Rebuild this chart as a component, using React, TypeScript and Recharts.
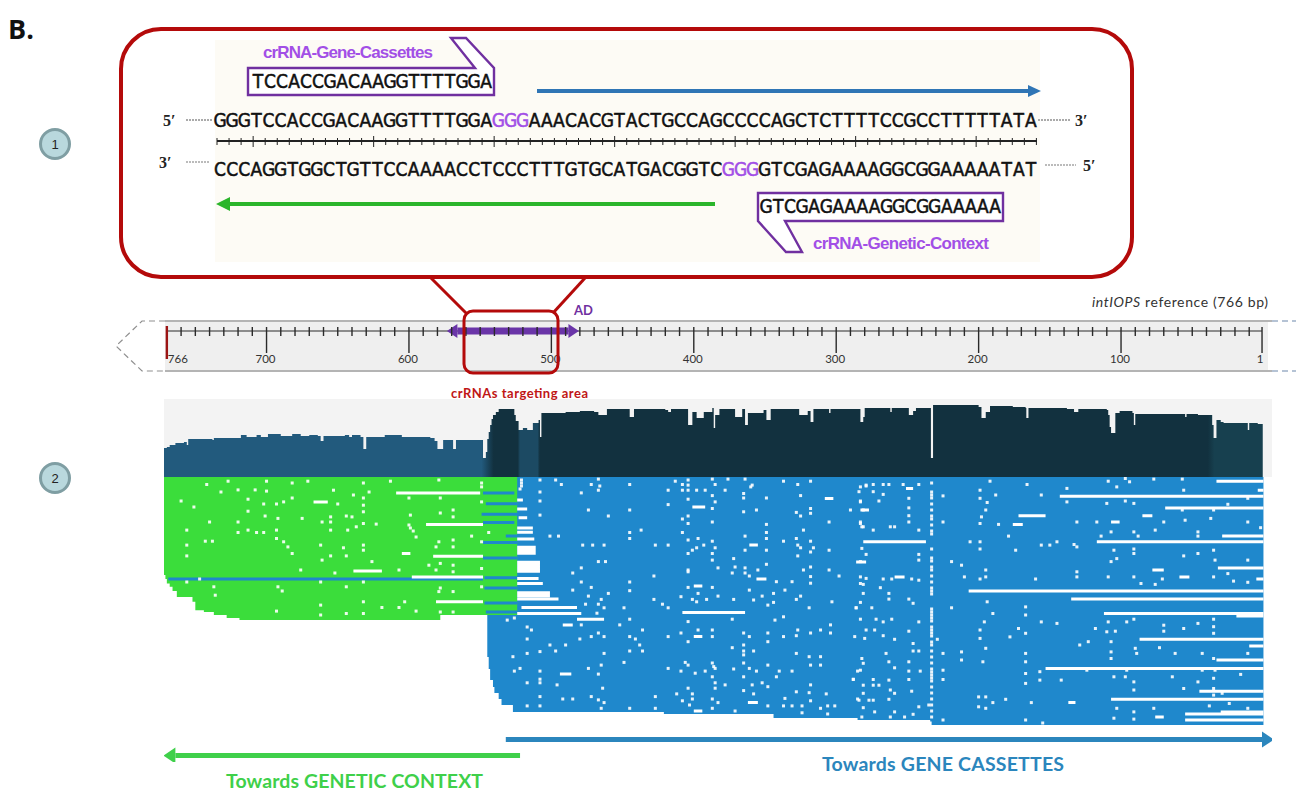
import React from "react";
import { Area, ComposedChart, Line, Scatter, XAxis, YAxis } from "recharts";

// reference position in bp, the drawn ruler runs a little past 766 at its left end
const xDomain = [-6, 772];

const rulerTicks = [770, 760, 750, 740, 730, 720, 710, 700, 690, 680, 670, 660, 650, 640, 630, 620, 610, 600, 590, 580, 570, 560, 550, 540, 530, 520, 510, 500, 490, 480, 470, 460, 450, 440, 430, 420, 410, 400, 390, 380, 370, 360, 350, 340, 330, 320, 310, 300, 290, 280, 270, 260, 250, 240, 230, 220, 210, 200, 190, 180, 170, 160, 150, 140, 130, 120, 110, 100, 90, 80, 70, 60, 50, 40, 30, 20, 10, 1];
const rulerLabels: Record<number, string> = { 770: "766", 700: "700", 600: "600", 500: "500", 400: "400", 300: "300", 200: "200", 100: "100", 1: "1" };
const rulerSpan = [770, 1];
const adRegion = [566, 488];

// coverage [bp, depth]
const coverage = [
  [772, 29], [770, 30], [768, 32], [764, 34], [758, 35], [756, 32], [755, 38], [745, 38], [738, 37], [737, 39], [728, 39], [720, 39], [718, 42], [714, 40], [707, 42], [704, 40], [699, 43], [690, 41], [682, 43], [676, 41], [670, 42], [664, 41], [662, 36], [660, 41], [645, 42], [642, 40], [640, 42], [634, 40], [632, 28], [630, 40], [622, 40], [617, 42], [608, 42], [605, 40], [590, 40], [585, 39], [582, 36], [580, 28], [577, 28], [576, 37], [570, 37], [569, 28], [567, 37], [550, 37], [548, 19], [546, 25], [545, 38], [544, 45], [543, 52], [542, 58], [541, 62], [539, 65], [537, 68], [528, 68],
  [526, 62], [525, 56], [523, 47], [520, 49], [517, 47], [513, 54], [509, 57], [508, 40], [507, 64], [490, 65], [480, 66], [470, 65], [467, 62], [461, 68], [446, 68], [445, 60], [442, 68], [420, 67], [418, 65], [416, 68], [405, 68], [404, 52], [401, 65], [398, 59], [393, 65], [387, 69], [386, 49], [385, 62], [382, 68], [372, 68], [371, 60], [366, 68], [365, 68], [364, 52], [362, 64], [351, 67], [349, 57], [346, 68], [328, 68], [326, 62], [320, 66], [318, 55], [316, 68], [305, 64], [304, 68], [290, 68], [284, 68], [283, 55], [281, 60], [280, 69], [263, 69], [262, 65], [261, 69], [250, 69], [249, 62], [246, 66], [244, 69], [234, 69], [233.5, 19], [232.5, 19], [232, 72], [200, 70], [198, 59], [195, 65], [192, 71], [176, 70], [167, 69], [166.5, 59], [165, 69], [138, 68], [133, 65], [130, 68], [110, 67], [109, 62], [108, 50], [107, 44], [104, 64], [101, 66], [92, 64], [91, 52], [90, 63], [56, 63], [55, 60], [54, 63], [46, 62], [39, 62], [36, 52], [35, 39], [33, 57], [30, 55], [28, 54], [12, 54], [11, 47], [10, 54], [4, 53], [0.5, 51],
];

// read depth, in rows from the top of the pile-up
const geneticDepth = [[772, 32.7], [771, 34], [770, 35.5], [768, 36.6], [766, 38], [763, 40], [752, 41.6], [750, 44.4], [744, 45], [737, 46], [728, 47], [719, 47.7], [581, 47.7], [578, 46], [524, 46]];
const cassetteDepth = [[545.5, 46], [545, 60], [544, 64], [543, 67.7], [541, 70], [540, 72], [537, 74], [535, 76], [527, 78.3], [422, 78.3], [421, 79], [345, 79], [344, 80.3], [285, 81], [234, 81.5], [233, 82.7], [0, 82.7]];

// [from bp, to bp, row]
const cassetteLanes = [[769, 548, 34], [548, 526, 5.3], [546, 524, 8.9], [549, 522, 12.4], [548, 526, 15.2], [532, 518, 19.7], [548, 524, 21.8], [548, 524, 27], [547, 522, 33.6], [547, 524, 37], [547, 524, 42], [546, 524, 45]];
const readGaps = [
  [609, 550, 5.3], [588, 548, 15.8], [583, 548, 26.4], [598, 548, 33.3], [581, 548, 41.6], [667, 657, 8.3], [639, 619, 31.3], [605, 599, 25.5],
  [524, 520, 7.7], [524, 517, 10.7], [523, 517, 13.6], [524, 513, 17], [524, 513, 18.4], [524, 512, 20.7], [524, 511, 23.4], [524, 511, 24.4], [524, 511, 25.4], [524, 508, 28.4], [524, 508, 29.4], [524, 508, 30.4], [524, 508, 31.4], [524, 509, 33.8], [524, 506, 35.5], [524, 501, 38.6], [524, 501, 39.6], [524, 495, 40.7], [521, 482, 43.5], [524, 479, 45.5], [482, 463, 47.4],
  [408, 364, 45.2], [33, 0, 1.4], [4, 0, 4.4], [143, 0, 6.4], [69, 0, 10.3], [172, 153, 12.9], [176, 169, 15.8], [85, 78, 12.9], [107, 101, 15], [29, 0, 19.7], [281, 237, 21.6], [117, 0, 21.6], [32, 0, 30.3], [5, 0, 34], [207, 0, 38], [135, 0, 40.7], [112, 0, 45.5], [19, 0, 46.3], [87, 0, 54.1], [10, 0, 56.3], [33, 0, 61], [153, 0, 63.8], [45, 0, 71.4], [107, 0, 74.1], [30, 0, 78.3], [55, 0, 79], [55, 0, 81],
  [286, 279, 28.3], [259, 252, 33.3], [251, 246, 3.8], [283, 277, 11], [78, 70, 31], [59, 52, 33.3], [76, 70, 80], [137, 132, 75.2], [492, 485, 49.3], [494, 486, 65.7], [400, 394, 36.3], [400, 394, 53.2], [362, 355, 75.2], [400, 394, 78], [356, 349, 34], [401, 392, 10], [361, 355, 22.7], [308, 302, 7.2],
];

// single mismatches as [bp, row]
const geneticDots = [
  [742, 2.5], [727, 1.4], [700, 1.4], [682, 2], [671, 1.4], [632, 2], [613, 1.4], [579, 1], [732, 5], [720, 4.3], [708, 4.3], [700, 4.7], [653, 4.4], [639, 6], [632, 7], [628, 5], [713, 7.4], [760, 8], [751, 10], [702, 9], [713, 11.4], [693, 9], [688, 8.3], [682, 7], [650, 9], [632, 9.4], [632, 11.6],
  [701, 13], [740, 15], [720, 15], [675, 13.8], [655, 13.3], [655, 15], [692, 13.8], [640, 13.3], [644, 13], [661, 15], [632, 15.5], [623, 15.7], [637, 16.6], [643, 17.7], [756, 17.7], [720, 18.5], [713, 17.7], [707, 18.5], [702, 18.5], [693, 17.7], [655, 17.7], [693, 20.5], [688, 21.6], [743, 21.4], [738, 21.4], [756, 22.7], [685, 23.3], [632, 22.7], [632, 24.4], [662, 22.7], [682, 25.5], [646, 23.6], [756, 26.3], [655, 26.3], [644, 26.3], [661, 27.7], [626, 28.2], [676, 31], [652, 32], [607, 31],
  [747, 34], [756, 35], [737, 36.6], [736, 39.4], [692, 36.6], [689, 38], [662, 35], [644, 36.6], [632, 35], [662, 42.7], [662, 46], [693, 44.7], [644, 45.5], [632, 45.5], [632, 41.6], [619, 43.5], [607, 43.5], [603, 41.6], [595, 44.7],
  [600, 7], [599, 12.7], [600, 16], [599, 17], [595, 20], [597, 18], [578, 7], [578, 12], [569, 11], [569, 13.3], [579, 21.6], [581, 23.3], [569, 21], [569, 23.3], [556, 19.7], [586, 29.4], [578, 28.8], [581, 31], [569, 29.4], [569, 31.6], [578, 37], [579, 38.2], [569, 38.2], [569, 45], [578, 45], [544, 18.5], [549, 2], [549, 3.3], [549, 8.3], [549, 21.6], [549, 30.5], [549, 36.6],
  [521, 1], [521, 2], [521, 3], [522, 4],
];
const cassetteDotsA = [
  [508, 1], [508, 5], [508, 8], [508, 12.7], [497, 1], [493, 2.5], [479, 5.3], [472, 2.5], [467, 0.7], [466, 3], [467, 4.4], [445, 2.5], [413, 1.4], [408, 2.5], [404, 1], [404, 2.7], [418, 4.4], [408, 4.4], [404, 4.4], [398, 4.4], [392, 4.4], [387, 0.7], [385, 2.5], [376, 0.7], [378, 4.4], [364, 0.7], [359, 2.7], [360, 3.3], [365, 5.5], [365, 7], [349, 7], [387, 6.2], [385, 8.3], [418, 9.2], [404, 7.4], [387, 10.5], [365, 11.6], [356, 11], [337, 1.4], [327, 2.5], [318, 1.4], [325, 6.2], [328, 11.8], [325, 13], [318, 10.5], [318, 12.1], [290, 11], [281, 11], [283, 3.3], [279, 3], [283, 8.3], [474, 11], [445, 11], [460, 13], [404, 13], [408, 14], [404, 15.5], [387, 15], [349, 15.8], [305, 15], [283, 15.5], [281, 16.6], [437, 17.7], [408, 18.5], [445, 18.5], [445, 20.5], [501, 19.7], [495, 19.7], [349, 18.5], [349, 20.5], [323, 17.7], [364, 19.7], [397, 20.5], [404, 21], [387, 21.4], [337, 21.4], [328, 20.5], [318, 21.4], [478, 22.7], [471, 22.7], [463, 22.7], [427, 22.7], [418, 22.7], [393, 22.7], [398, 23.6], [385, 23.6], [327, 22.7], [325, 23.6], [401, 24.4], [404, 25.5], [364, 24.4], [349, 24.4], [316, 23.6], [318, 25], [305, 24.4], [327, 26.3], [387, 25.5], [387, 27.7], [467, 28.2], [462, 28.2], [372, 27.2], [383, 30.3], [364, 30.3], [371, 30], [349, 29.1], [479, 30.3], [404, 31], [355, 31], [305, 31], [323, 31], [318, 30], [283, 28.2],
];
const cassetteDotsB = [
  [485, 32], [428, 33], [404, 31.6], [373, 32], [364, 32], [361, 33], [342, 34.9], [331, 34.9], [318, 33.2], [318, 35.4], [298, 33], [485, 37.7], [479, 35], [472, 36.8], [445, 35], [445, 37.9], [404, 36.8], [397, 38.8], [387, 36.8], [361, 37.7], [344, 38.8], [336, 37.7], [460, 38.8], [474, 39.7], [465, 40.8], [428, 40.8], [409, 39.9], [401, 40.8], [391, 40.8], [383, 39.7], [372, 40.8], [398, 41.6], [358, 41], [352, 39.7], [325, 39.7], [328, 40.8], [344, 41.8], [348, 42.7], [303, 41.6], [476, 42.4], [467, 42.4], [463, 43.6], [449, 43.6], [422, 42.4], [418, 43.6], [319, 43.6], [286, 43.6], [468, 45.4], [445, 47.4], [337, 46.6], [343, 47.7], [404, 48.2], [373, 47.4], [531, 47.7], [526, 47], [479, 49.3], [452, 49.3], [304, 49.3], [517, 50], [514, 51], [436, 51], [397, 51], [387, 51], [365, 52], [348, 52], [327, 51], [318, 52], [311, 51], [304, 52],
  [472, 53.2], [467, 52], [463, 53.2], [445, 53.2], [418, 53.2], [409, 52], [387, 53.2], [361, 53.2], [337, 53.2], [328, 52.9], [287, 53.2], [480, 54], [441, 54], [517, 54], [348, 54.9], [404, 54.9], [438, 56], [501, 56], [490, 56], [365, 56], [373, 56.9], [508, 58.2], [497, 58], [445, 58], [436, 58], [358, 58], [365, 58], [517, 58.8], [463, 58.8], [527, 59.9], [365, 59.3], [328, 58.8], [319, 59.9], [311, 59.9], [449, 61.8], [406, 61.8], [387, 62], [404, 62.7], [365, 62], [465, 62.7], [348, 62.7], [318, 62.7], [311, 62.7], [386, 63.2], [522, 63.8], [526, 64.7], [508, 64.7], [474, 63.8], [467, 65.7], [418, 63.8], [409, 64.7], [399, 65.4], [392, 64.7], [385, 63.8], [372, 64], [361, 63.8], [356, 64.7], [340, 64.7], [331, 64.7], [285, 64.7], [342, 66.6], [365, 66.6], [387, 66.6], [508, 67.4], [508, 68.6], [517, 68.6], [288, 67.4], [385, 68.6], [496, 69.3], [378, 69.3], [359, 69.3], [352, 68.6], [348, 69.9], [318, 69.3], [464, 70.4], [385, 70.4], [404, 70.4], [365, 71.2], [508, 73.2], [427, 73.2], [412, 72.3], [401, 72.3], [358, 72.3], [328, 71.6], [319, 71.9], [307, 72.3], [285, 74], [492, 74], [485, 74], [472, 73.2], [467, 74.3], [408, 74.6], [401, 74], [387, 74], [336, 73.8], [318, 74.6], [463, 75.2], [517, 76.3], [508, 76.3], [465, 77.1], [445, 77.1], [427, 77.1], [403, 76], [387, 77.1], [383, 75.2], [371, 78], [348, 76.3], [337, 76.3], [331, 76.3], [324, 76.3], [324, 78.6], [311, 77.1], [306, 76.3], [301, 76.3], [306, 79],
];
const cassetteDotsC = [
  [279, 2.7], [274, 2.5], [267, 2.5], [263, 2.5], [253, 2.5], [242, 2.5], [284, 4.9], [274, 4.9], [267, 5.8], [283, 8], [270, 8], [249, 7.1], [249, 10.3], [249, 12.9], [249, 15], [283, 15], [282, 16.6], [262, 16.6], [259, 16.6], [274, 17.7], [242, 17.7], [225, 6.3], [199, 4.4], [199, 7.1], [192, 1.4], [188, 6], [194, 8.5], [195, 11], [198, 13.3], [225, 15], [199, 15.5], [186, 15.8], [166, 2.5], [156, 6], [179, 19.7], [206, 21.6], [199, 21.6], [199, 24], [174, 24.4], [156, 22.7], [150, 22.7], [145, 21.6], [133, 22.5], [131, 15], [117, 15], [138, 3.8], [109, 1.4], [103, 3.3], [97, 0.5], [94, 1.6], [77, 0.7], [57, 0.7], [56, 4.4], [110, 8.8], [97, 8], [91, 8.8], [138, 8.3], [57, 11], [55, 14.4], [70, 15], [35, 11], [37, 13.8], [25, 9.1], [11, 7.1], [11, 15], [2, 16.9], [107, 18.3], [114, 19.7], [91, 18.3], [88, 19.7], [76, 17.7], [46, 18.3], [46, 19.7], [131, 23.3], [105, 24.4], [91, 24], [91, 25.5], [56, 26.3], [46, 25.5], [35, 24.4], [34, 27.7], [11, 27.7], [103, 27.2], [107, 28.2], [219, 28.2], [212, 29.4], [195, 31], [195, 33.3], [210, 33.3], [199, 34], [160, 34], [131, 31.6], [131, 33.3], [109, 33.3], [91, 33.3], [86, 35.5], [76, 35.8], [71, 34], [35, 33.3], [25, 32.2], [21, 34.7], [11, 35.1],
  [282, 23.8], [279, 25.8], [242, 25.8], [242, 27.7], [283, 33.3], [279, 33.8], [267, 34], [261, 34], [242, 34.4], [247, 34], [283, 35.5], [281, 35.8], [269, 36.9], [281, 38.8], [263, 38.8], [263, 40.7], [249, 40.7], [246, 42.1], [286, 43.6], [283, 41.8], [275, 43.6], [283, 47.4], [272, 47.4], [267, 48.3], [261, 47.4], [242, 48.3], [279, 51], [273, 51], [249, 51.4], [280, 53.8], [267, 52.9], [259, 54.1], [265, 58.8], [246, 55.5], [246, 58], [242, 58], [282, 60.5], [281, 62.1], [283, 64.4], [263, 61.6], [259, 63.6], [249, 61.6], [249, 64.7], [241, 64.7], [288, 67.5], [274, 67.5], [270, 69.4], [263, 67.7], [249, 67.5], [281, 69.4], [274, 69.4], [262, 71], [259, 72.1], [247, 71.4], [284, 74.4], [281, 72.1], [277, 74.4], [281, 76.9], [274, 74.4], [263, 74.1], [273, 78.3], [259, 78.3], [242, 76.6], [235, 76], [246, 79.1], [262, 80], [252, 80], [282, 80],
  [225, 64.4], [225, 67.5], [196, 48.3], [190, 45.5], [199, 51], [199, 53.8], [219, 43.6], [194, 41.6], [229, 54.1], [212, 58.3], [212, 61], [195, 57.1], [197, 61.6], [225, 58.8], [178, 53.3], [172, 50.5], [167, 43.3], [167, 46], [167, 52.1], [167, 58.8], [167, 61.6], [167, 65.5], [167, 68.8], [156, 48.3], [145, 48.8], [157, 64.9], [157, 67.7], [142, 67.7], [129, 56], [123, 54.9], [118, 50.5], [109, 48.3], [110, 51.6], [104, 51.4], [107, 54.9], [107, 58.3], [107, 60.5], [90, 57.1], [89, 58.8], [96, 48.3], [91, 47.4], [70, 49.4], [70, 51.4], [56, 50.5], [46, 48.8], [35, 47.4], [35, 49.9], [35, 52.1], [73, 56.9], [62, 58.8], [43, 58.8], [11, 58.8], [35, 60.5], [124, 64.4], [96, 64.4], [43, 64.4], [34, 64.4], [105, 66.6], [97, 66.6], [91, 68.3], [91, 71], [64, 66.6], [46, 68.3], [35, 67.1], [16, 65.8], [56, 70.5], [35, 70.5], [29, 72.1], [200, 73.3], [195, 73.3], [200, 76.6], [195, 77.1], [190, 75.2], [181, 74.1], [163, 75.2], [167, 81], [225, 81], [155, 82], [103, 77.1], [91, 78.3], [91, 80.7], [105, 80.4], [77, 77.1], [38, 76.3], [11, 77.1], [24, 75.5], [35, 72.7],
];
// the nearly continuous mismatch column at bp 233
const column233 = [2, 5, 6, 7, 9, 11, 13, 14, 16, 18, 19, 24, 27, 28, 30, 31, 33, 35, 37, 38, 39, 44, 45, 46, 47, 48, 50, 51, 52, 53, 55, 56, 58, 60, 62, 64, 65, 66, 67, 68, 70, 72, 74, 76, 78, 80];

// direction arrows below the pile-up
const towardsContext = [764, 522];
const towardsCassettes = [532, 1];

const seqTop = ["GGGTCCACCGACAAGGTTTTGGA", "GGG", "AAACACGTACTGCCAGCCCCAGCTCTTTTCCGCCTTTTTATA"];
const seqBottom = ["CCCAGGTGGCTGTTCCAAAACCTCCCTTTGTGCATGACGGTC", "GGG", "GTCGAGAAAAGGCGGAAAAATAT"];
const crrnaCassettes = "TCCACCGACAAGGTTTTGGA";
const crrnaContext = "GTCGAGAAAAGGCGGAAAAA";

const PLOT_LEFT = 164;
const PLOT_W = 1108;
const LABEL_FONT = "Lato, 'Open Sans', sans-serif";
const SEQ_FONT = "'Liberation Sans Narrow', 'DejaVu Sans Condensed', sans-serif";
const PURPLE = "#7030a0";
const LABEL_PURPLE = "#a24fe6";
const RED = "#b40a0a";
const GREEN = "#3bdd3b";
const BLUE = "#1f88cc";

const rowsOf = (pairs: number[][]) => pairs.map(([bp, row]) => ({ bp, row }));
const segments = (list: number[][]) =>
  list.flatMap(([a, b, row]) => [{ bp: a, row }, { bp: b, row }, { bp: b, row: null }]);

function RulerTick({ x, payload }: any) {
  const v = payload.value;
  const label = rulerLabels[v];
  const first = v === 770;
  const dx = first ? 11 : v === 1 ? -2 : -1;
  return (
    <g>
      <line x1={x} x2={x} y1={first ? 5 : 6} y2={label ? (first ? 38 : 32) : 15} stroke={first ? "#9c1414" : "#2a2a2a"} strokeWidth={first ? 2.4 : 1.4} />
      {label && (
        <text x={x + dx} y={42} textAnchor="middle" fontSize={11.5} fontFamily={LABEL_FONT} fill="#333">
          {label}
        </text>
      )}
    </g>
  );
}

const arrowDot = (size: number, ends: string[], color: string) => (p: any) => {
  const { cx, cy, index } = p;
  const d = ends[index];
  if (!d) return <g key={index} />;
  const s = d === "left" ? -1 : 1;
  return (
    <polygon key={index} points={`${cx + s * size * 1.5},${cy} ${cx},${cy - size} ${cx},${cy + size}`} fill={color} />
  );
};

function Ruler() {
  const span = rulerSpan.map((bp) => ({ bp, y: 1 }));
  const ad = adRegion.map((bp) => ({ bp, y: 1 }));
  return (
    <div style={{ position: "absolute", left: PLOT_LEFT, top: 321 }}>
      <ComposedChart width={PLOT_W} height={50} margin={{ top: 0, right: 0, bottom: 0, left: 0 }}>
        <XAxis dataKey="bp" type="number" orientation="top" reversed domain={xDomain} ticks={rulerTicks} interval={0} height={10} tick={<RulerTick />} tickLine={false} axisLine={false} />
        <YAxis hide domain={[0, 1]} />
        <Line data={span} dataKey="y" stroke="#2a2a2a" strokeWidth={1.2} dot={false} activeDot={false} isAnimationActive={false} />
        <Line data={ad} dataKey="y" stroke="#6a35a8" strokeWidth={7} isAnimationActive={false} dot={arrowDot(7, ["left", "right"], "#6a35a8")} activeDot={false} />
      </ComposedChart>
    </div>
  );
}

function Coverage() {
  const data = coverage.map(([bp, depth]) => ({ bp, depth }));
  return (
    <div style={{ position: "absolute", left: PLOT_LEFT, top: 399, background: "#f3f3f3" }}>
      <ComposedChart width={PLOT_W} height={78} margin={{ top: 0, right: 0, bottom: 0, left: 0 }}>
        <defs>
          <linearGradient id="depthFill" x1="0" x2="1" y1="0" y2="0">
            <stop offset="0" stopColor="#225a7d" />
            <stop offset="0.289" stopColor="#225a7d" />
            <stop offset="0.3" stopColor="#12313f" />
            <stop offset="0.322" stopColor="#12313f" />
            <stop offset="0.324" stopColor="#1c4a63" />
            <stop offset="0.34" stopColor="#1c4a63" />
            <stop offset="0.342" stopColor="#12313f" />
            <stop offset="0.95" stopColor="#12313f" />
            <stop offset="0.956" stopColor="#17404f" />
            <stop offset="1" stopColor="#17404f" />
          </linearGradient>
        </defs>
        <XAxis hide dataKey="bp" type="number" reversed domain={xDomain} />
        <YAxis hide domain={[0, 78]} />
        <Area data={data} dataKey="depth" type="stepAfter" fill="url(#depthFill)" fillOpacity={1} stroke="none" isAnimationActive={false} />
      </ComposedChart>
    </div>
  );
}

function Pileup() {
  const whiteDots = rowsOf([...geneticDots, ...cassetteDotsA, ...cassetteDotsB, ...cassetteDotsC, ...column233.map((r) => [233, r])]);
  const square = (p: any) => <rect x={p.cx - 1.5} y={p.cy - 1.5} width={3} height={3} fill="#fff" fillOpacity={0.9} />;
  return (
    <div style={{ position: "absolute", left: PLOT_LEFT, top: 477 }}>
      <ComposedChart width={PLOT_W} height={249} margin={{ top: 0, right: 0, bottom: 0, left: 0 }}>
        <XAxis hide dataKey="bp" type="number" reversed domain={xDomain} />
        <YAxis hide dataKey="row" type="number" reversed domain={[0, 83]} />
        <Area data={rowsOf(cassetteDepth)} dataKey="row" type="stepAfter" fill={BLUE} fillOpacity={1} stroke="none" isAnimationActive={false} />
        <Area data={rowsOf(geneticDepth)} dataKey="row" type="stepAfter" fill={GREEN} fillOpacity={1} stroke="none" isAnimationActive={false} />
        <Line data={segments(cassetteLanes)} dataKey="row" stroke={BLUE} strokeWidth={3} dot={false} activeDot={false} isAnimationActive={false} />
        <Line data={segments(readGaps)} dataKey="row" stroke="#fff" strokeWidth={3} dot={false} activeDot={false} isAnimationActive={false} />
        <Scatter data={whiteDots} dataKey="row" shape={square} isAnimationActive={false} />
      </ComposedChart>
    </div>
  );
}

function Directions() {
  const left = towardsContext.map((bp) => ({ bp, y: 0.2 }));
  const right = towardsCassettes.map((bp) => ({ bp, y: 0.7 }));
  return (
    <div style={{ position: "absolute", left: PLOT_LEFT, top: 730 }}>
      <ComposedChart width={PLOT_W} height={32} margin={{ top: 0, right: 0, bottom: 0, left: 0 }}>
        <XAxis hide dataKey="bp" type="number" reversed domain={xDomain} />
        <YAxis hide domain={[0, 1]} />
        <Line data={left} dataKey="y" stroke="#3fd04a" strokeWidth={5} dot={arrowDot(8, ["left", ""], "#3fd04a")} activeDot={false} isAnimationActive={false} />
        <Line data={right} dataKey="y" stroke="#2b86bd" strokeWidth={5} dot={arrowDot(8, ["", "right"], "#2b86bd")} activeDot={false} isAnimationActive={false} />
      </ComposedChart>
    </div>
  );
}

// the bases sit on an even pitch like a monospaced font, but with narrow letters
function Bases({ text, x, pitch, y, color = "#111" }: { text: string; x: number; pitch: number; y: number; color?: string }) {
  const xs = Array.from(text, (_, i) => (x + pitch * (i + 0.5)).toFixed(1)).join(" ");
  return (
    <text x={xs} y={y} textAnchor="middle" fontFamily={SEQ_FONT} fontSize={19} fill={color} stroke={color} strokeWidth={0.5}>
      {text}
    </text>
  );
}

function Sequence({ parts, y }: { parts: string[]; y: number }) {
  const pitch = 823 / parts.join("").length;
  const midStart = 214 + parts[0].length * pitch;
  const endStart = midStart + parts[1].length * pitch;
  return (
    <g>
      <Bases text={parts[0]} x={214} pitch={pitch} y={y} />
      <Bases text={parts[1]} x={midStart} pitch={pitch} y={y} color={LABEL_PURPLE} />
      <Bases text={parts[2]} x={endStart} pitch={pitch} y={y} />
    </g>
  );
}

function BehindCharts() {
  return (
    <svg width={1296} height={792} style={{ position: "absolute", left: 0, top: 0 }}>
      <rect x={165} y={322} width={1103} height={48} fill="#efefef" />
      <line x1={165} x2={1272} y1={321} y2={321} stroke="#9b9b9b" strokeWidth={1.6} />
      <line x1={165} x2={1272} y1={371} y2={371} stroke="#9b9b9b" strokeWidth={1.6} />
      <path d="M165 321 H142 L116 346 L142 371 H165" fill="none" stroke="#8f8f8f" strokeWidth={1.2} strokeDasharray="6 4" />
      <line x1={1272} x2={1296} y1={321} y2={321} stroke="#9db0c8" strokeWidth={1.4} strokeDasharray="6 4" />
      <line x1={1272} x2={1296} y1={371} y2={371} stroke="#9db0c8" strokeWidth={1.4} strokeDasharray="6 4" />
    </svg>
  );
}

function Overlay() {
  const ladder = Array.from({ length: 69 }, (_, i) => 217 + i * 12.05);
  return (
    <svg width={1296} height={792} style={{ position: "absolute", left: 0, top: 0 }}>
      <text x={8} y={39} fontFamily="'Open Sans', sans-serif" fontWeight={700} fontSize={27} fill="#111">B.</text>

      {/* zoom box */}
      <rect x={215} y={40} width={825} height={222} fill="#fdfbf5" />
      <rect x={121} y={29} width={1011} height={248} rx={40} fill="none" stroke={RED} strokeWidth={4} />
      <line x1={431} y1={278} x2={466} y2={313} stroke={RED} strokeWidth={3} />
      <line x1={585} y1={278} x2={553} y2={313} stroke={RED} strokeWidth={3} />
      <rect x={464} y={311} width={94} height={62} rx={9} fill="none" stroke={RED} strokeWidth={3} />

      <text x={263} y={58} fontFamily="'Liberation Sans Narrow', sans-serif" fontWeight={700} fontSize={17} fill={LABEL_PURPLE} textLength={170}>crRNA-Gene-Cassettes</text>
      <path d="M248 68 H475 L451 38 H466 L494 68 V95 H248 Z" fill="#fff" stroke={PURPLE} strokeWidth={2.4} />
      <Bases text={crrnaCassettes} x={252} pitch={12} y={88} />

      <line x1={537} x2={1030} y1={91} y2={91} stroke="#2f75b5" strokeWidth={4} />
      <polygon points="1041,91 1028,85 1028,97" fill="#2f75b5" />

      <text x={163} y={126} fontFamily="'Liberation Serif', serif" fontWeight={700} fontSize={16} fill="#222">5′</text>
      <line x1={186} x2={212} y1={120} y2={120} stroke="#aaa" strokeWidth={2} strokeDasharray="2 1" />
      <Sequence parts={seqTop} y={127} />
      <line x1={1038} x2={1070} y1={120} y2={120} stroke="#aaa" strokeWidth={2} strokeDasharray="2 1" />
      <text x={1075} y={126} fontFamily="'Liberation Serif', serif" fontWeight={700} fontSize={16} fill="#222">3′</text>

      <line x1={217} x2={1037} y1={141} y2={141} stroke="#222" strokeWidth={1.8} />
      {ladder.map((x, i) => (
        <line key={i} x1={x} x2={x} y1={i % 10 === 3 ? 136 : 138} y2={i % 10 === 3 ? 147 : 145} stroke="#222" strokeWidth={1} />
      ))}

      <text x={159} y={168} fontFamily="'Liberation Serif', serif" fontWeight={700} fontSize={16} fill="#222">3′</text>
      <line x1={186} x2={209} y1={162} y2={162} stroke="#bbb" strokeWidth={2} strokeDasharray="2 1" />
      <Sequence parts={seqBottom} y={176} />
      <line x1={1045} x2={1076} y1={165} y2={165} stroke="#bbb" strokeWidth={2} strokeDasharray="2 1" />
      <text x={1083} y={171} fontFamily="'Liberation Serif', serif" fontWeight={700} fontSize={16} fill="#222">5′</text>

      <line x1={228} x2={715} y1={204} y2={204} stroke="#2bb52b" strokeWidth={4} />
      <polygon points="216,204 230,197 230,211" fill="#2bb52b" />

      <path d="M758 193 H1003 V221 H785 L802 252 H786 L758 221 Z" fill="#fff" stroke={PURPLE} strokeWidth={2.4} />
      <Bases text={crrnaContext} x={760} pitch={12.05} y={213} />
      <text x={813} y={249} fontFamily="'Liberation Sans Narrow', sans-serif" fontWeight={700} fontSize={17} fill={LABEL_PURPLE} textLength={176}>crRNA-Genetic-Context</text>

      <text x={574} y={315} fontFamily={LABEL_FONT} fontWeight={700} fontSize={13} fill={PURPLE}>AD</text>
      <text x={1092} y={307} fontFamily={LABEL_FONT} fontSize={14} fill="#333" textLength={176}>
        <tspan fontStyle="italic">intIOPS</tspan> reference (766 bp)
      </text>
      <text x={451} y={398} fontFamily={LABEL_FONT} fontWeight={700} fontSize={13} fill="#c01616" textLength={137}>crRNAs targeting area</text>

      <circle cx={55} cy={144} r={14.5} fill="#b9d8dd" stroke="#7f9ea3" strokeWidth={3} />
      <text x={55} y={149} textAnchor="middle" fontFamily="'Liberation Sans', sans-serif" fontSize={13} fill="#222">1</text>
      <circle cx={55} cy={478} r={14.5} fill="#b9d8dd" stroke="#7f9ea3" strokeWidth={3} />
      <text x={55} y={483} textAnchor="middle" fontFamily="'Liberation Sans', sans-serif" fontSize={13} fill="#222">2</text>

      <text x={226} y={788} fontFamily={LABEL_FONT} fontWeight={700} fontSize={19.5} fill="#3fd04a" textLength={257}>Towards GENETIC CONTEXT</text>
      <text x={822} y={771} fontFamily={LABEL_FONT} fontWeight={700} fontSize={19.5} fill="#2b86bd" textLength={242}>Towards GENE CASSETTES</text>
    </svg>
  );
}

export default function App() {
  return (
    <div style={{ position: "absolute", left: 0, top: 0, width: 1296, height: 792, background: "#fff", overflow: "hidden" }}>
      <BehindCharts />
      <Ruler />
      <Coverage />
      <Pileup />
      <Directions />
      <Overlay />
    </div>
  );
}
